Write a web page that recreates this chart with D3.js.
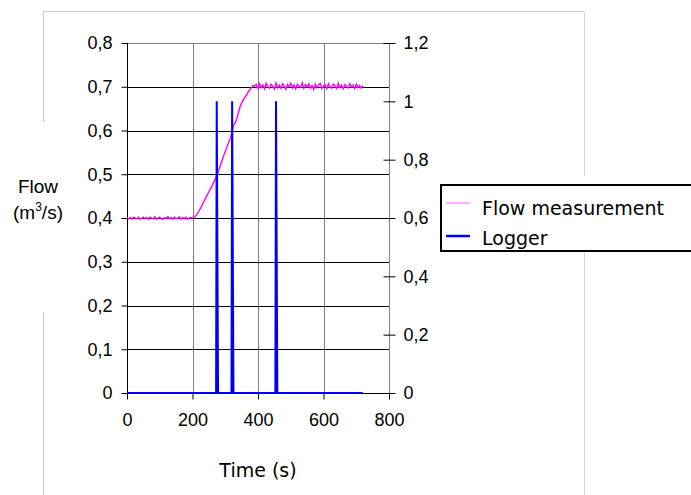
<!DOCTYPE html>
<html>
<head>
<meta charset="utf-8">
<script src="https://cdn.jsdelivr.net/npm/d3@7"></script>
<style>
  html, body { margin: 0; padding: 0; background: #fff; }
  svg { display: block; }
</style>
</head>
<body>
<svg id="chart" width="691" height="495"></svg>
<script>
(function () {
    'use strict';

    // flow measurement, sampled every 5 s from 0 to 720 s (m3/s)
    const flowValues = [
        0.401, 0.398, 0.401, 0.397, 0.402, 0.400, 0.398, 0.402, 0.397, 0.400,
        0.402, 0.398, 0.401, 0.397, 0.402, 0.400, 0.398, 0.403, 0.397, 0.400,
        0.402, 0.398, 0.397, 0.401, 0.399, 0.403, 0.398, 0.401, 0.397, 0.402,
        0.398, 0.400, 0.403, 0.397, 0.401, 0.398, 0.402, 0.397, 0.400, 0.401,
        0.400,
        0.402, 0.405, 0.410, 0.416, 0.423, 0.431, 0.438, 0.446, 0.453, 0.460,
        0.467, 0.474, 0.482, 0.490, 0.499, 0.509, 0.520, 0.531, 0.542, 0.552,
        0.562, 0.572, 0.582, 0.593, 0.612, 0.617, 0.627, 0.640, 0.654, 0.663,
        0.670, 0.676, 0.681, 0.688, 0.693, 0.698, 0.703, 0.701,
        0.705, 0.696, 0.707, 0.698, 0.704, 0.695, 0.708, 0.700, 0.697, 0.706,
        0.701, 0.695, 0.709, 0.698, 0.704, 0.696, 0.707, 0.702, 0.694, 0.705,
        0.700, 0.708, 0.697, 0.704, 0.695, 0.706, 0.701, 0.698, 0.709, 0.696,
        0.705, 0.700, 0.707, 0.697, 0.703, 0.694, 0.706, 0.698, 0.704, 0.708,
        0.696, 0.701, 0.705, 0.695, 0.707, 0.700, 0.697, 0.706, 0.702, 0.696,
        0.708, 0.698, 0.704, 0.695, 0.705, 0.701, 0.697, 0.707, 0.700, 0.704,
        0.696, 0.706, 0.698, 0.703, 0.697, 0.703
    ];
    const flowTime = d3.range(0, 721, 5);

    // logger pulses (right axis)
    const loggerTime  = [0, 272, 274, 276, 278, 319, 321, 323, 325, 453, 455, 457, 459, 720];
    const loggerValue = [0, 0,   1,   0.5, 0,   0,   1,   0.5, 0,   0,   1,   0.5, 0,   0];

    const xTicks = [0, 200, 400, 600, 800];
    const yLeftTicks = [0, 0.1, 0.2, 0.3, 0.4, 0.5, 0.6, 0.7, 0.8];
    const yRightTicks = [0, 0.2, 0.4, 0.6, 0.8, 1, 1.2];
    const seriesNames = ["Flow measurement", "Logger"];
    const seriesColors = ["#ff00ff", "#0000ff"];

    const fmt = d => String(+d.toFixed(1)).replace('.', ',');

    var svg = d3.select("#chart");

    var x = d3.scaleLinear().domain([0, 800]).range([127, 389]);
    var yL = d3.scaleLinear().domain([0, 0.8]).range([393, 43]);
    var yR = d3.scaleLinear().domain([0, 1.2]).range([393, 43]);

    // outer chart border (partly hidden in the original)
    var border = svg.append("g").attr("stroke", "#c8c8c8").attr("stroke-width", 1);
    border.append("line").attr("x1", 43).attr("x2", 585).attr("y1", 11.5).attr("y2", 11.5);
    border.append("line").attr("x1", 43.5).attr("x2", 43.5).attr("y1", 11).attr("y2", 122);
    border.append("line").attr("x1", 43.5).attr("x2", 43.5).attr("y1", 312).attr("y2", 495);
    border.append("line").attr("x1", 584.5).attr("x2", 584.5).attr("y1", 11).attr("y2", 176).attr("stroke", "#d8d8d8");
    border.append("line").attr("x1", 584.5).attr("x2", 584.5).attr("y1", 252).attr("y2", 495).attr("stroke", "#d8d8d8");

    // gridlines
    svg.append("g").selectAll("line")
        .data(xTicks.slice(1, -1))
        .join("line")
        .attr("x1", d => Math.round(x(d)) + 0.5).attr("x2", d => Math.round(x(d)) + 0.5)
        .attr("y1", yL(0.8)).attr("y2", yL(0))
        .attr("stroke", "#808080");

    svg.append("g").selectAll("line")
        .data(yLeftTicks.slice(1))
        .join("line")
        .attr("x1", x(0)).attr("x2", x(800))
        .attr("y1", d => Math.round(yL(d)) + 0.5).attr("y2", d => Math.round(yL(d)) + 0.5)
        .attr("stroke", d => d === 0.8 ? "#808080" : "#000");

    // left axis
    var left = svg.append("g")
        .attr("transform", `translate(${Math.round(x(0)) + 0.5},0)`)
        .call(d3.axisLeft(yL).tickValues(yLeftTicks).tickFormat(fmt).tickSize(6).tickPadding(9));

    // right axis
    var right = svg.append("g")
        .attr("transform", `translate(${Math.round(x(800)) + 0.5},0)`)
        .call(d3.axisRight(yR).tickValues(yRightTicks).tickFormat(fmt).tickSize(6).tickPadding(8));
    right.selectAll(".tick line").attr("x1", -6).attr("x2", 6).attr("stroke", "#000");

    // bottom axis
    var bottom = svg.append("g")
        .attr("transform", `translate(0,${Math.round(yL(0)) + 0.5})`)
        .call(d3.axisBottom(x).tickValues(xTicks).tickFormat(d => d).tickSize(6).tickPadding(14));

    svg.selectAll(".tick text")
        .attr("font-family", "'Liberation Sans', Arial, sans-serif")
        .attr("font-size", 18)
        .attr("fill", "#000");
    left.select(".domain").attr("d", `M0,${yL(0.8)}V${yL(0)}`).attr("stroke", "#000");
    right.select(".domain").attr("d", `M0,${yR(1.2)}V${yR(0)}`).attr("stroke", "#808080");
    bottom.select(".domain").attr("d", `M${x(0)},0H${x(800)}`).attr("stroke", "#000");

    // series
    var flowLine = d3.line().x(d => x(d[0])).y(d => yL(d[1]));
    svg.append("path")
        .datum(flowTime.map((t, i) => [t, flowValues[i]]))
        .attr("fill", "none")
        .attr("stroke", seriesColors[0])
        .attr("stroke-width", 1.4)
        .attr("d", flowLine);

    var loggerLine = d3.line().x(d => x(d[0])).y(d => yR(d[1]));
    svg.append("path")
        .datum(loggerTime.map((t, i) => [t, loggerValue[i]]))
        .attr("fill", "none")
        .attr("stroke", seriesColors[1])
        .attr("stroke-width", 2)
        .attr("d", loggerLine);

    // axis titles
    var yTitle = svg.append("text")
        .attr("font-family", "'Liberation Sans', Arial, sans-serif")
        .attr("font-size", 19)
        .attr("text-anchor", "middle");
    yTitle.append("tspan").attr("x", 38).attr("y", 193).text("Flow");
    var t2 = yTitle.append("tspan").attr("x", 38).attr("y", 219);
    t2.append("tspan").text("(m");
    t2.append("tspan").attr("font-size", 12).attr("dy", -8).text("3");
    t2.append("tspan").attr("dy", 8).text("/s)");

    svg.append("text")
        .attr("x", 258).attr("y", 477)
        .attr("font-family", "'DejaVu Sans', Verdana, sans-serif")
        .attr("font-size", 19)
        .attr("text-anchor", "middle")
        .text("Time (s)");

    // legend
    var legend = svg.append("g");
    legend.append("rect")
        .attr("x", 441).attr("y", 185).attr("width", 262).attr("height", 66)
        .attr("fill", "#fff").attr("stroke", "#000").attr("stroke-width", 2);
    seriesNames.forEach(function (name, i) {
        var ly = 203 + i * 33;
        legend.append("line")
            .attr("x1", 446).attr("x2", 470).attr("y1", ly).attr("y2", ly)
            .attr("stroke", seriesColors[i])
            .attr("stroke-width", i === 0 ? 1.2 : 2.5)
            .attr("stroke-opacity", i === 0 ? 0.55 : 1);
        legend.append("text")
            .attr("x", 482).attr("y", ly + 12 - i * 3)
            .attr("font-family", "'DejaVu Sans', Verdana, sans-serif")
            .attr("font-size", 19)
            .text(name);
    });
})();
</script>
</body>
</html>
